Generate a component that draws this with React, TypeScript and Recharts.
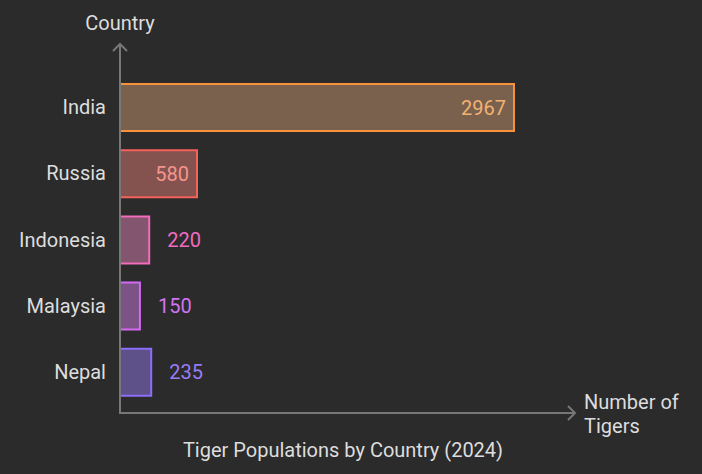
import React from 'react';
import { BarChart, Bar, XAxis, YAxis, Cell, LabelList } from 'recharts';

const countries = ['India', 'Russia', 'Indonesia', 'Malaysia', 'Nepal'];
const tigers = [2967, 580, 220, 150, 235];
const strokeColors = ['#f7923a', '#f4625c', '#f26cbc', '#d46af4', '#8c6ef8'];
const fillColors = ['#7a614e', '#84524f', '#84556f', '#7b5386', '#5e5189'];
const labelColors = ['#f2b272', '#f5968c', '#f06cc0', '#d274f2', '#9a7cf5'];
const xDomainMax = 3434;
const chartTitle = 'Tiger Populations by Country (2024)';
const yTitle = 'Country';
const xTitleLines = ['Number of', 'Tigers'];

const data = countries.map((name, i) => ({ name, value: tigers[i] }));

const FONT = 'Roboto, "Noto Sans", sans-serif';
const FS = 20;
const AXIS = '#777777';
const TEXT = '#dddddd';

const ValueLabel = (props: any) => {
  const { x, y, width, height, value, index } = props;
  const inside = width > 60;
  const tx = inside ? x + width - 8 : x + width + 18;
  return (
    <text
      x={tx}
      y={y + height / 2}
      dy="0.355em"
      textAnchor={inside ? 'end' : 'start'}
      fill={labelColors[index]}
      fontSize={FS}
      fontFamily={FONT}
    >
      {value}
    </text>
  );
};

export default function App() {
  return (
    <div style={{ position: 'absolute', left: 0, top: 0, width: 702, height: 474, background: '#2b2b2b' }}>
      <BarChart
        width={702}
        height={474}
        layout="vertical"
        data={data}
        margin={{ top: 74, right: 126, bottom: 69, left: 0 }}
      >
        <XAxis type="number" domain={[0, xDomainMax]} hide />
        <YAxis
          type="category"
          dataKey="name"
          width={120}
          axisLine={false}
          tickLine={false}
          tickSize={0}
          tickMargin={14}
          tick={{ fill: TEXT, fontSize: FS, fontFamily: FONT }}
        />
        <Bar dataKey="value" barSize={47} strokeWidth={2} isAnimationActive={false}>
          {data.map((d, i) => (
            <Cell key={d.name} fill={fillColors[i]} stroke={strokeColors[i]} />
          ))}
          <LabelList dataKey="value" content={<ValueLabel />} />
        </Bar>
      </BarChart>
      <svg
        width={702}
        height={474}
        style={{ position: 'absolute', left: 0, top: 0, pointerEvents: 'none' }}
      >
        <line x1={120} y1={413} x2={120} y2={44} stroke={AXIS} strokeWidth={2} />
        <polyline points="113,51 120,44 127,51" fill="none" stroke={AXIS} strokeWidth={2} />
        <line x1={119} y1={413} x2={575} y2={413} stroke={AXIS} strokeWidth={2} />
        <polyline points="568,406 575,413 568,420" fill="none" stroke={AXIS} strokeWidth={2} />
        <text x={120} y={30} textAnchor="middle" fill={TEXT} fontSize={FS} fontFamily={FONT}>
          {yTitle}
        </text>
        <text x={584} y={409} fill={TEXT} fontSize={FS} fontFamily={FONT}>
          {xTitleLines[0]}
        </text>
        <text x={584} y={433} fill={TEXT} fontSize={FS} fontFamily={FONT}>
          {xTitleLines[1]}
        </text>
        <text x={343} y={457} textAnchor="middle" fill={TEXT} fontSize={FS} fontFamily={FONT}>
          {chartTitle}
        </text>
      </svg>
    </div>
  );
}
